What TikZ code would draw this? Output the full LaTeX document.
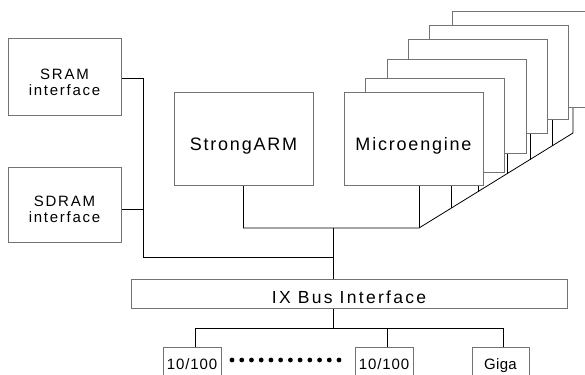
\documentclass[tikz,border=0pt]{standalone}
\usepackage{fontspec}
\setmainfont{Liberation Sans}
\usetikzlibrary{calc}
\pgfdeclarelayer{background}
\pgfsetlayers{background,main}
\newcommand\bl[2]{\raisebox{-#1pt}[0pt][0pt]{#2}}
\begin{document}
\begin{tikzpicture}[x=1pt,y=-1pt,
  box/.style={draw=black!55, line width=0.6pt, fill=white, inner sep=0pt, outer sep=0pt},
  mebox/.style={box, minimum width=139pt, minimum height=94pt},
  portbox/.style={box, minimum height=50pt},
  wire/.style={draw=black, line width=0.8pt},
  dotmark/.style={fill=black},
  fbig/.style={font=\fontsize{18}{20}\selectfont\addfontfeature{LetterSpace=10}},
  fix/.style={font=\fontsize{17.5}{20}\selectfont\addfontfeature{LetterSpace=13}},
  fmem/.style={font=\fontsize{15}{16}\selectfont\addfontfeature{LetterSpace=11.5}},
  fport/.style={font=\fontsize{15}{17}\selectfont\addfontfeature{LetterSpace=6}},
  fgiga/.style={font=\fontsize{15}{17}\selectfont\addfontfeature{LetterSpace=2}},
]
\useasboundingbox (0,0) rectangle (585,374);
\clip (0,0) rectangle (585,374);

% memory interfaces
\node[box, fmem, minimum width=113pt, minimum height=77pt] (sram) at (64.5,76.5)
  {\bl{3.5}{\begin{tabular}[t]{@{}c@{}}SRAM\\interface\end{tabular}}};
\node[box, fmem, minimum width=113pt, minimum height=75pt] (sdram) at (64.5,204.5)
  {\bl{1.5}{\begin{tabular}[t]{@{}c@{}}SDRAM\\interface\end{tabular}}};

% StrongARM
\node[box, fbig, minimum width=139pt, minimum height=93pt] (arm) at (243.5,138.5)
  {\bl{12.5}{StrongARM}};

% microengines (back to front)
\node[mebox, minimum height=96pt] (me5) at (521.5,59) {};
\node[mebox] (me4) at (499,72) {};
\node[mebox] (me3) at (477.5,86) {};
\node[mebox] (me2) at (456.5,106) {};
\node[mebox] (me1) at (435,125) {};
\node[mebox, fbig, minimum height=93pt] (me0) at (413.5,138.5) {\bl{12.5}{Microengine}};

% IX bus
\node[box, fix, minimum width=436pt, minimum height=29pt] (ix) at (349,293.5)
  {\bl{9.5}{IX Bus Interface}};

% ports
\node[portbox, fport, minimum width=58pt] (p1) at (192,372) {\bl{-3}{10/100}};
\node[portbox, fport, minimum width=58pt] (p2) at (384,372) {\bl{-3}{10/100}};
\node[portbox, fgiga, minimum width=57pt] (giga) at (500.5,372) {\bl{-3}{Giga}};

% dots between ports
\foreach \i in {0,...,11} \fill[dotmark] (232+9.73*\i,360) circle [radius=2.4pt];

% coordinates
\coordinate (dA) at (419,228);
\coordinate (dB) at (573,133);
\coordinate (t1) at ($(dA)!0.208!(dB)$);
\coordinate (t2) at ($(dA)!0.383!(dB)$);
\coordinate (t3) at ($(dA)!0.571!(dB)$);
\coordinate (t4) at ($(dA)!0.721!(dB)$);
\coordinate (t5) at ($(dA)!0.864!(dB)$);
\coordinate (j1) at (333,228);
\coordinate (mb) at (143,257);
\coordinate (j3) at (333,328);
\coordinate (q1) at ([xshift=3pt]p1.north);
\coordinate (q2) at ([xshift=3pt]p2.north);
\coordinate (q3) at ([xshift=3pt]giga.north);
\coordinate (sr) at ([yshift=-1.5pt]sram.east);
\coordinate (sd) at ([yshift=-4.5pt]sdram.east);

\begin{pgfonlayer}{background}
  % internal bus
  \draw[wire] (arm.south) |- (dA) -- (dB) -- (dB |- me5.south);
  \draw[wire] (dA |- me0.south) -- (dA);
  \draw[wire] (t1 |- me0.south) -- (t1);
  \draw[wire] (t2 |- me1.south) -- (t2);
  \draw[wire] (t3 |- me2.south) -- (t3);
  \draw[wire] (t4 |- me3.south) -- (t4);
  \draw[wire] (t5 |- me4.south) -- (t5);
  \draw[wire] (j1) -- (j1 |- ix.north);
  % memory bus
  \draw[wire] (sr) -| (mb) -- (mb -| j1);
  \draw[wire] (sd) -- (sd -| mb);
  % port bus
  \draw[wire] (j3 |- ix.south) -- (j3);
  \draw[wire] (q1) |- (q3 |- j3) -- (q3);
  \draw[wire] (q2) -- (q2 |- j3);
\end{pgfonlayer}
\end{tikzpicture}
\end{document}
